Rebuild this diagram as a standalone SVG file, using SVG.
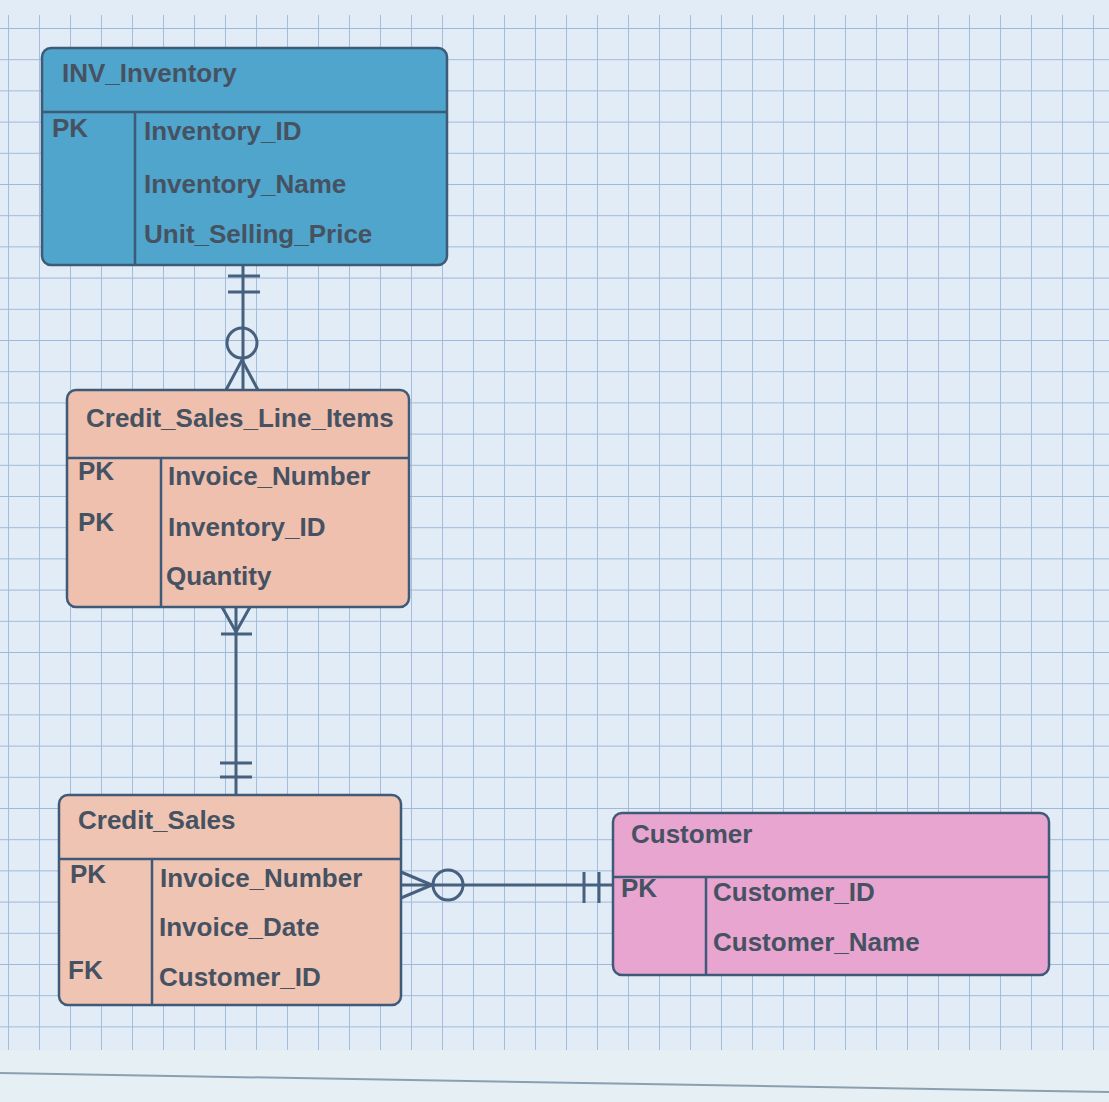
<svg xmlns="http://www.w3.org/2000/svg" width="1109" height="1102" viewBox="0 0 1109 1102">
<defs>
<pattern id="grid" x="8" y="28" width="31" height="31.2" patternUnits="userSpaceOnUse">
<path d="M0 0V31.2M0 0H31" fill="none" stroke="#9fb8da" stroke-width="1.8"/>
</pattern>
</defs>
<style>
.t{font-family:"Liberation Sans",Arial,sans-serif;font-size:26px;font-weight:bold;fill:#465262}
.box{stroke:#3f5a78;stroke-width:2.5}
.ln{stroke:#3f5a78;stroke-width:2.5;fill:none}
.c{stroke:#46607e;stroke-width:3;fill:none}
</style>
<rect width="1109" height="1102" fill="#e2ecf6"/>
<rect x="0" y="15" width="1109" height="1035" fill="url(#grid)"/>
<rect x="0" y="1050" width="1109" height="52" fill="#e6eff4"/>
<path d="M0 1073 L1109 1092" stroke="#8aa0b0" stroke-width="2"/>

<g id="connectors">
<path class="c" d="M243 265V390"/>
<path class="c" d="M228 276H260M228 292H260"/>
<circle class="c" cx="242" cy="343" r="15" fill="#e2ecf6"/>
<path class="c" d="M226 390L242 360L258 390"/>
<path class="c" d="M236 607V795"/>
<path class="c" d="M222 607L236 632L250 607M221 634H252"/>
<path class="c" d="M220 763H252M220 777H252"/>
<path class="c" d="M401 885H613"/>
<path class="c" d="M401 872L432 885L401 898"/>
<circle class="c" cx="448" cy="885" r="15" fill="#e2ecf6"/>
<path class="c" d="M584 872V903M599 872V903"/>
</g>

<g id="inv_inventory">
<rect class="box" x="42" y="48" width="405" height="217" rx="9" fill="#4fa5cb"/>
<path class="ln" d="M42 112H447M135 112V265"/>
<text class="t" x="62" y="82">INV_Inventory</text>
<text class="t" x="52" y="137">PK</text>
<text class="t" x="144" y="140">Inventory_ID</text>
<text class="t" x="144" y="193">Inventory_Name</text>
<text class="t" x="144" y="243">Unit_Selling_Price</text>
</g>

<g id="credit_sales_line_items">
<rect class="box" x="67" y="390" width="342" height="217" rx="9" fill="#efc0ae"/>
<path class="ln" d="M67 458H409M161 458V607"/>
<text class="t" x="86" y="427">Credit_Sales_Line_Items</text>
<text class="t" x="78" y="480">PK</text>
<text class="t" x="78" y="531">PK</text>
<text class="t" x="168" y="485">Invoice_Number</text>
<text class="t" x="168" y="536">Inventory_ID</text>
<text class="t" x="166" y="585">Quantity</text>
</g>

<g id="credit_sales">
<rect class="box" x="59" y="795" width="342" height="210" rx="9" fill="#efc4b3"/>
<path class="ln" d="M59 859H401M152 859V1005"/>
<text class="t" x="78" y="829">Credit_Sales</text>
<text class="t" x="70" y="883">PK</text>
<text class="t" x="68" y="979">FK</text>
<text class="t" x="160" y="887">Invoice_Number</text>
<text class="t" x="159" y="936">Invoice_Date</text>
<text class="t" x="159" y="986">Customer_ID</text>
</g>

<g id="customer">
<rect class="box" x="613" y="813" width="436" height="162" rx="9" fill="#e8a5d0"/>
<path class="ln" d="M613 877H1049M706 877V975"/>
<text class="t" x="631" y="843">Customer</text>
<text class="t" x="621" y="897">PK</text>
<text class="t" x="713" y="901">Customer_ID</text>
<text class="t" x="713" y="951">Customer_Name</text>
</g>
</svg>
